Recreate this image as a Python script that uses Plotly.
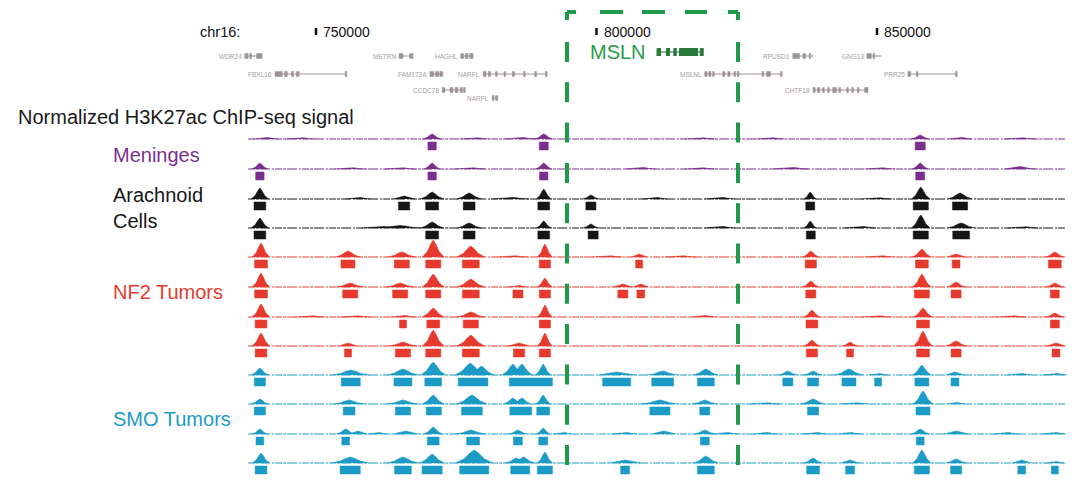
import plotly.graph_objects as go

# ---------------- data ----------------
CHROM = "chr16:"
TICK_BP = [750000, 800000, 850000]
VIEW_KB = [695.10, 885.65]          # visible genomic window (kb)
TRACK_KB = [737.9, 883.5]           # extent of the signal tracks (kb)
MSLN_REGION_KB = [794.74, 825.22]   # highlighted region

GENE_NAMES = ["WDR24", "FBXL16", "METRN", "HAGHL", "FAM173A", "NARFL", "CCDC78",
              "NARFL", "RPUSD1", "GNG13", "MSLNL", "PRR25", "CHTF18"]
GENE_START = [737.3, 742.7, 764.8, 775.8, 770.3, 779.8, 772.5, 781.4, 835.0, 848.2, 819.3, 855.5, 838.6]
GENE_END = [740.4, 755.5, 767.3, 778.0, 772.6, 791.2, 776.6, 782.4, 838.6, 850.9, 833.1, 864.3, 848.4]
GENE_ROW = [0, 1, 0, 0, 1, 1, 2, 3, 0, 0, 1, 1, 2]
GENE_EXONS = [
    [(737.3, 737.9), (738.2, 738.5), (739.4, 740.4)],
    [(742.7, 744.0), (744.4, 744.9), (745.6, 746.0), (746.5, 747.0), (755.2, 755.5)],
    [(764.8, 765.5), (766.7, 767.3)],
    [(775.8, 776.3), (776.6, 777.1), (777.4, 778.0)],
    [(770.3, 771.0), (771.3, 771.9), (772.1, 772.6)],
    [(779.8, 780.3), (780.7, 781.1), (782.0, 782.3), (783.5, 783.8), (785.0, 785.4),
     (787.0, 787.3), (789.0, 789.3), (790.9, 791.2)],
    [(772.5, 773.0), (773.9, 774.4), (774.8, 775.3), (775.7, 776.1), (776.3, 776.6)],
    [(781.4, 781.7), (782.0, 782.4)],
    [(835.0, 836.2), (836.8, 837.3), (837.9, 838.2)],
    [(848.2, 849.0), (849.3, 849.6)],
    [(819.3, 819.7), (820.0, 820.4), (820.7, 821.0), (822.5, 822.9), (823.4, 823.8),
     (824.5, 824.8), (825.1, 825.4), (829.5, 829.8), (830.3, 831.0), (832.8, 833.1)],
    [(855.5, 856.0), (857.0, 857.3), (864.0, 864.3)],
    [(838.6, 839.0), (839.4, 839.8), (840.3, 840.6), (841.2, 841.5), (842.1, 842.8),
     (843.2, 843.5), (844.6, 844.9), (845.5, 845.8), (846.5, 846.8), (847.8, 848.4)],
]
MSLN_GENE = ("MSLN", 810.8, 819.0)
MSLN_EXONS = [(810.8, 811.4), (812.5, 813.0), (813.8, 814.2), (814.8, 818.0), (818.5, 819.0)]

# peaks: (center kb, signal height, base width kb); boxes: (center kb, width kb)
MEN1_PEAKS = [(770.7, 5, 3.0), (790.6, 5, 3.0), (857.7, 4, 3.0), (741.0, 2, 4), (747.2, 1.5, 5),
              (778.3, 1.5, 5), (786.4, 2, 5), (818.5, 1.5, 5), (830.9, 1.5, 5), (864.8, 2, 4), (875.5, 1.5, 5)]
MEN1_BOXES = [(770.7, 1.5), (790.6, 1.6), (857.7, 1.8)]
MEN2_PEAKS = [(740.0, 6, 2.6), (770.7, 6, 2.6), (790.6, 6, 2.6), (857.7, 6, 2.6), (756.1, 1.5, 5),
              (765.0, 1.5, 5), (777.5, 1.5, 5), (807.8, 2, 5), (818.5, 1.5, 5), (834.5, 2, 6),
              (850.5, 1.5, 5), (875.5, 2.5, 5)]
MEN2_BOXES = [(740.0, 1.5), (770.7, 1.5), (790.6, 1.5), (857.7, 1.6)]

ARA1_PEAKS = [(740.0, 11, 2.8), (765.7, 3, 3.5), (770.7, 7, 3.8), (777.3, 6, 4.0), (790.6, 10, 2.4),
              (799.0, 4, 2.6), (838.1, 7, 2.0), (857.8, 12, 3.0), (864.8, 6, 4.0), (757.5, 2, 4),
              (784.6, 2, 6), (810.4, 2, 4), (822.0, 2, 5), (850.0, 1.5, 5)]
ARA1_BOXES = [(740.0, 2.1), (765.7, 2.0), (770.7, 2.3), (777.3, 2.1), (790.6, 2.1), (799.0, 1.8),
              (838.1, 1.6), (857.8, 2.7), (864.8, 2.7)]
ARA2_PEAKS = [(740.0, 10, 2.8), (770.7, 6, 3.8), (777.3, 5, 4.0), (790.6, 7, 2.4), (799.0, 4, 2.6),
              (838.1, 7, 2.0), (857.8, 13, 3.0), (865.0, 5, 4.5), (761.4, 2, 6), (765.0, 2.5, 7),
              (822.0, 2, 5), (847.0, 2, 5), (876.0, 1.5, 5)]
ARA2_BOXES = [(740.0, 2.1), (770.7, 2.3), (777.3, 2.1), (790.6, 2.1), (799.4, 1.8), (838.2, 1.6),
              (857.8, 2.7), (865.0, 3.0)]

NF2_1_PEAKS = [(740.2, 14, 2.8), (755.7, 6, 4.0), (765.3, 5, 4.5), (770.9, 17, 3.5), (777.6, 11, 4.5),
               (790.8, 13, 2.4), (807.6, 3, 2.5), (838.2, 6, 2.6), (858.0, 8, 3.0), (864.1, 3, 3.0),
               (881.7, 5, 3.0), (785.0, 1.5, 5), (802.0, 1.5, 5), (815.0, 1.5, 5), (850.5, 1.5, 5)]
NF2_1_BOXES = [(740.2, 2.3), (755.7, 2.5), (765.3, 2.7), (770.9, 2.7), (777.6, 3.0), (790.8, 2.0),
               (807.6, 1.25), (838.2, 2.0), (858.0, 2.3), (864.1, 1.4), (881.7, 2.3)]
NF2_2_PEAKS = [(740.2, 14, 2.8), (756.1, 4, 4.5), (765.0, 4, 4.5), (770.9, 13, 3.5), (777.6, 8, 4.5),
               (786.0, 2, 3.0), (790.8, 9, 2.4), (804.7, 3, 3.0), (807.9, 3, 2.5), (838.2, 6, 2.6),
               (858.0, 13, 3.0), (864.1, 5, 3.0), (881.7, 4, 3.0)]
NF2_2_BOXES = [(740.2, 2.3), (756.1, 2.7), (765.0, 2.7), (770.9, 2.7), (777.6, 3.0), (786.0, 1.8),
               (790.8, 2.0), (804.7, 1.8), (807.9, 1.4), (838.2, 1.8), (858.0, 2.7), (864.1, 1.8),
               (881.7, 1.6)]
NF2_3_PEAKS = [(740.2, 13, 2.8), (765.5, 2, 4.0), (770.9, 9, 3.5), (777.6, 5, 4.5), (790.8, 12, 2.4),
               (838.4, 7, 2.6), (858.2, 9, 3.0), (881.7, 4, 3.0), (757.0, 1.5, 5), (749.0, 1.5, 5),
               (819.0, 2, 4), (850.0, 1.5, 5), (874.0, 1.5, 5)]
NF2_3_BOXES = [(740.2, 2.1), (765.5, 1.25), (770.9, 2.3), (777.6, 2.7), (790.8, 2.0), (838.4, 2.1),
               (858.2, 2.3), (881.7, 1.6)]
NF2_4_PEAKS = [(740.2, 13, 2.8), (755.7, 3, 3.0), (765.5, 4, 4.5), (770.9, 16, 3.5), (777.6, 11, 4.5),
               (786.2, 3, 3.5), (790.8, 13, 2.4), (838.4, 6, 2.6), (845.2, 4, 2.5), (858.2, 15, 3.0),
               (864.1, 5, 3.5), (881.9, 3, 3.0)]
NF2_4_BOXES = [(740.2, 2.1), (755.7, 1.25), (765.5, 2.7), (770.9, 2.7), (777.6, 3.0), (786.2, 2.0),
               (790.8, 2.0), (838.4, 2.0), (845.2, 1.25), (858.2, 2.3), (864.1, 1.8), (881.9, 1.4)]

SMO_1_PEAKS = [(740.0, 7, 2.8), (756.2, 5, 6.0), (765.5, 6, 5.0), (770.9, 13, 4.0), (777.5, 12, 5.0),
               (779.5, 9, 4.0), (785.1, 11, 3.5), (786.7, 11, 3.5), (790.5, 11, 2.5), (803.6, 3, 6.0),
               (811.8, 4, 5.0), (819.5, 6, 4.0), (834.1, 4, 3.0), (838.6, 4, 3.0), (845.0, 6, 4.5),
               (850.2, 2, 3.0), (858.0, 10, 3.0), (863.9, 3, 3.0), (875.5, 2, 4.0), (881.7, 2, 4.0)]
SMO_1_BOXES = [(740.0, 2.0), (756.2, 3.4), (765.5, 3.2), (770.9, 3.0), (778.0, 5.3), (788.3, 7.7),
               (803.6, 5.0), (811.8, 3.9), (819.5, 3.0), (834.1, 1.8), (838.6, 2.0), (845.0, 2.5),
               (850.2, 1.25), (858.0, 2.5), (863.9, 1.4)]
SMO_2_PEAKS = [(740.0, 5, 2.8), (755.9, 4, 5.0), (765.5, 4, 5.0), (770.9, 9, 3.5), (777.8, 9, 5.0),
               (785.1, 6, 3.0), (786.7, 6, 3.0), (790.5, 9, 2.4), (811.3, 4, 6.0), (819.3, 4, 4.0),
               (838.6, 5, 4.0), (858.2, 13, 3.2), (864.0, 2, 3.0), (830.0, 1.5, 5), (846.0, 1.5, 5)]
SMO_2_BOXES = [(740.0, 2.0), (755.9, 2.1), (765.5, 2.7), (771.0, 2.7), (777.8, 3.7), (786.5, 3.9),
               (790.5, 2.3), (811.3, 3.6), (819.3, 1.8), (838.6, 2.0), (858.2, 2.5)]
SMO_3_PEAKS = [(740.0, 5, 2.5), (755.3, 5, 3.0), (757.5, 3, 3.0), (761.0, 2, 3.0), (766.0, 3, 4.0),
               (770.9, 7, 3.0), (777.6, 4, 5.0), (786.0, 4, 3.0), (790.5, 6, 2.2), (794.0, 2, 3.0),
               (805.0, 2, 4.0), (812.0, 3, 4.0), (819.3, 4, 3.5), (823.0, 2, 4.0), (830.0, 2, 4.0),
               (839.0, 2, 4.0), (845.0, 2, 4.0), (857.7, 5, 3.0), (864.1, 3, 4.0), (873.0, 2, 4.0),
               (881.5, 2, 4.0)]
SMO_3_BOXES = [(740.0, 1.4), (755.3, 1.4), (770.9, 2.1), (778.0, 2.3), (786.0, 1.6), (790.5, 1.6),
               (819.3, 1.6), (857.7, 1.4)]
SMO_4_PEAKS = [(740.2, 10, 2.8), (756.1, 6, 6.0), (765.5, 6, 5.0), (770.7, 9, 4.0), (778.2, 13, 6.0),
               (785.7, 5, 3.5), (787.0, 6, 3.5), (790.8, 11, 2.5), (805.1, 3, 5.0), (819.5, 7, 4.0),
               (838.6, 5, 3.0), (845.2, 3, 3.0), (858.0, 13, 3.0), (864.1, 4, 3.5), (875.8, 3, 3.0),
               (881.7, 2, 3.0)]
SMO_4_BOXES = [(740.2, 2.1), (756.1, 3.6), (765.5, 3.0), (770.7, 3.6), (778.2, 5.2), (786.4, 3.4),
               (790.8, 2.7), (805.1, 1.6), (819.5, 3.0), (838.6, 2.3), (845.2, 1.6), (858.0, 2.7),
               (864.1, 2.0), (875.8, 1.4), (881.7, 1.25)]

GROUP_LABELS = ["Normalized H3K27ac ChIP-seq signal", "Meninges", "Arachnoid<br>Cells", "NF2 Tumors", "SMO Tumors"]

# ---------------- style ----------------
PURPLE, BLACK, RED, CYAN = "#7a2f8e", "#161616", "#e63a2e", "#1b9bc6"
GREEN = "#1f9a4b"
GENE_GRAY = "#9c9494"
FONT = "Liberation Sans, Arial, Helvetica, sans-serif"
PAGE_OFF = 8                    # default page margin of the html body
W, H = 1077 - PAGE_OFF, 484 - PAGE_OFF

TRACKS = [
    (MEN1_PEAKS, MEN1_BOXES, PURPLE), (MEN2_PEAKS, MEN2_BOXES, PURPLE),
    (ARA1_PEAKS, ARA1_BOXES, BLACK), (ARA2_PEAKS, ARA2_BOXES, BLACK),
    (NF2_1_PEAKS, NF2_1_BOXES, RED), (NF2_2_PEAKS, NF2_2_BOXES, RED),
    (NF2_3_PEAKS, NF2_3_BOXES, RED), (NF2_4_PEAKS, NF2_4_BOXES, RED),
    (SMO_1_PEAKS, SMO_1_BOXES, CYAN), (SMO_2_PEAKS, SMO_2_BOXES, CYAN),
    (SMO_3_PEAKS, SMO_3_BOXES, CYAN), (SMO_4_PEAKS, SMO_4_BOXES, CYAN),
]
TRACK_BASE_Y = [139, 169, 199, 228, 257, 287, 317, 346, 375, 404, 434, 463]
BOX_GAP, BOX_H = 3, 8
PROFILE_X = [-0.55, -0.3, -0.12, 0, 0.12, 0.3, 0.55]
PROFILE_Y = [0, 0.32, 0.78, 1, 0.78, 0.32, 0]
GENE_ROW_Y = [56, 74, 90, 98]
EXON_H = 5


def paper_x(px):
    return (px - PAGE_OFF) / W


fig = go.Figure()

# signal tracks
for (peaks, boxes, color), base in zip(TRACKS, TRACK_BASE_Y):
    fig.add_trace(go.Scatter(x=TRACK_KB, y=[base, base], mode="lines",
                             line=dict(color=color, width=1.2, dash="7px,1px,3px,1px,10px,2px,2px,1px"),
                             hoverinfo="skip"))
    px_, py_ = [], []
    for c, h, w in peaks:
        for fx, fy in zip(PROFILE_X, PROFILE_Y):
            px_.append(c + fx * w)
            py_.append(base - fy * h)
        px_.append(None); py_.append(None)
    fig.add_trace(go.Scatter(x=px_, y=py_, mode="lines", fill="toself", fillcolor=color,
                             line=dict(color=color, width=0.6), hoverinfo="skip"))
    bx, by = [], []
    for c, w in boxes:
        x0, x1 = c - w / 2, c + w / 2
        y0, y1 = base + BOX_GAP, base + BOX_GAP + BOX_H
        bx += [x0, x1, x1, x0, x0, None]
        by += [y0, y0, y1, y1, y0, None]
    fig.add_trace(go.Scatter(x=bx, y=by, mode="lines", fill="toself", fillcolor=color,
                             line=dict(color=color, width=0.5), hoverinfo="skip"))

# gene models
lx, ly, ex, ey = [], [], [], []
for name, s, e, row, exons in zip(GENE_NAMES, GENE_START, GENE_END, GENE_ROW, GENE_EXONS):
    y = GENE_ROW_Y[row]
    lx += [s, e, None]; ly += [y, y, None]
    for a, b in exons:
        ex += [a, b, b, a, a, None]
        ey += [y - EXON_H / 2, y - EXON_H / 2, y + EXON_H / 2, y + EXON_H / 2, y - EXON_H / 2, None]
    fig.add_annotation(x=s, y=y, xref="x", yref="y", text=name, showarrow=False,
                       xanchor="right", yanchor="middle", xshift=-1,
                       font=dict(family=FONT, size=6.5, color="#a59e9e"))
fig.add_trace(go.Scatter(x=lx, y=ly, mode="lines", line=dict(color=GENE_GRAY, width=1), hoverinfo="skip"))
fig.add_trace(go.Scatter(x=ex, y=ey, mode="lines", fill="toself", fillcolor=GENE_GRAY,
                         line=dict(color=GENE_GRAY, width=0.5), hoverinfo="skip"))

# MSLN highlighted gene
my = 52
mx, myy = [MSLN_GENE[1], MSLN_GENE[2], None], [my, my, None]
for a, b in MSLN_EXONS:
    mx += [a, b, b, a, a, None]
    myy += [my - 3.5, my - 3.5, my + 3.5, my + 3.5, my - 3.5, None]
fig.add_trace(go.Scatter(x=mx, y=myy, mode="lines", fill="toself", fillcolor="#2b7a3b",
                         line=dict(color="#2b7a3b", width=1.2), hoverinfo="skip"))
fig.add_annotation(x=MSLN_GENE[1], y=my, xref="x", yref="y", text=MSLN_GENE[0], showarrow=False,
                   xanchor="right", yanchor="middle", xshift=-9,
                   font=dict(family=FONT, size=20, color="#2a9a4c"))

# coordinate ticks
tx, ty = [], []
for t in TICK_BP:
    tx += [t / 1000, t / 1000, None]; ty += [28, 35, None]
    fig.add_annotation(x=t / 1000, y=31.5, xref="x", yref="y", text=str(t), showarrow=False,
                       xanchor="left", yanchor="middle", xshift=5,
                       font=dict(family=FONT, size=14, color="#111"))
fig.add_trace(go.Scatter(x=tx, y=ty, mode="lines", line=dict(color="#111", width=2.5), hoverinfo="skip"))
fig.add_annotation(x=paper_x(198), y=31.5, xref="paper", yref="y", text=CHROM, showarrow=False,
                   xanchor="left", yanchor="middle", font=dict(family=FONT, size=14.5, color="#111"))

# group labels
label_pos = [(16, 117, "#1a1a1a"), (111, 155, PURPLE), (111, 208, BLACK), (111, 292, RED), (111, 419, CYAN)]
for text, (x, y, col) in zip(GROUP_LABELS, label_pos):
    fig.add_annotation(x=paper_x(x), y=y, xref="paper", yref="y", text=text, showarrow=False,
                       xanchor="left", yanchor="middle", align="left",
                       font=dict(family=FONT, size=20, color=col))

# highlighted MSLN region (dashed box, open at bottom)
xl, xr = MSLN_REGION_KB
vdash = "8px,22px," + ",".join(["20px,20.3px"] * 11)
hdash = "9px,24px,23px,19px,23px,20px,22px,21px,12px"
for xv in (xl, xr):
    fig.add_shape(type="line", x0=xv, x1=xv, y0=12, y1=465, xref="x", yref="y",
                  line=dict(color=GREEN, width=4, dash=vdash), layer="above")
fig.add_shape(type="line", x0=xl, x1=xr, y0=12, y1=12, xref="x", yref="y",
              line=dict(color=GREEN, width=4, dash=hdash), layer="above")

fig.update_layout(
    width=W, height=H, margin=dict(l=0, r=0, t=0, b=0),
    paper_bgcolor="white", plot_bgcolor="white", showlegend=False,
    xaxis=dict(range=VIEW_KB, visible=False, fixedrange=True),
    yaxis=dict(range=[484, PAGE_OFF], visible=False, fixedrange=True),
)
fig.write_html("out.html", config={"displayModeBar": False})
